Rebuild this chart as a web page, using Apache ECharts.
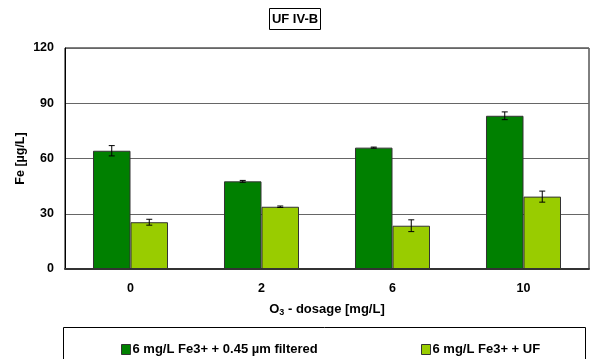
<!DOCTYPE html>
<html>
<head>
<meta charset="utf-8">
<script src="https://cdn.jsdelivr.net/npm/echarts@6/dist/echarts.min.js"></script>
<style>html,body{margin:0;padding:0;background:#fff;}#c{width:590px;height:359px;}</style>
</head>
<body>
<div id="c"></div>
<script>
var categories = ['0', '2', '6', '10'];
var seriesNames = ['6 mg/L Fe3+ + 0.45 µm filtered', '6 mg/L Fe3+ + UF'];
var filteredValues = [64.2, 47.6, 65.9, 83.2];
var filteredErrors = [2.8, 0.5, 0.3, 2.1];
var ufValues = [25.4, 33.8, 23.5, 39.3];
var ufErrors = [1.6, 0.4, 3.2, 3.0];
var yTicks = [0, 30, 60, 90, 120];
var yAxisTitle = 'Fe [µg/L]';

var FONT = '"Liberation Sans", Arial, sans-serif';
var BAR_FRAC = 0.2863;

function errorSeries(values, errors, side) {
  var data = values.map(function (v, i) { return [i, v - errors[i], v + errors[i]]; });
  return {
    type: 'custom',
    silent: true,
    z: 10,
    data: data,
    renderItem: function (params, api) {
      var idx = api.value(0);
      var bandW = api.size([1, 0])[0];
      var off = side * bandW * BAR_FRAC / 2;
      var lo = api.coord([idx, api.value(1)]);
      var hi = api.coord([idx, api.value(2)]);
      var x = lo[0] + off;
      var cap = 3;
      var st = { stroke: '#000', lineWidth: 1 };
      return {
        type: 'group',
        children: [
          { type: 'line', shape: { x1: x, y1: lo[1], x2: x, y2: hi[1] }, style: st },
          { type: 'line', shape: { x1: x - cap, y1: lo[1], x2: x + cap, y2: lo[1] }, style: st },
          { type: 'line', shape: { x1: x - cap, y1: hi[1], x2: x + cap, y2: hi[1] }, style: st }
        ]
      };
    }
  };
}

var legendText = { fontSize: 13, fontWeight: 'bold', color: '#000', fontFamily: FONT, padding: [0, 0, 0, -3] };

var chart = echarts.init(document.getElementById('c'));
chart.setOption({
  animation: false,
  backgroundColor: '#fff',
  textStyle: { fontFamily: FONT },
  title: {
    text: 'UF IV-B',
    left: 'center',
    top: 8,
    padding: [5, 3, 4, 3],
    borderColor: '#000',
    borderWidth: 1,
    textStyle: { fontSize: 13, fontWeight: 'bold', color: '#000', fontFamily: FONT }
  },
  grid: { left: 65, right: 1, top: 48, bottom: 90, show: true, borderColor: '#000', borderWidth: 1 },
  legend: [
    {
      data: [seriesNames[0]], icon: 'rect',
      left: 116, top: 338,
      itemWidth: 9, itemHeight: 10, itemGap: 0,
      itemStyle: { borderColor: '#333', borderWidth: 1 },
      textStyle: legendText
    },
    {
      data: [seriesNames[1]], icon: 'rect',
      left: 416, top: 338,
      itemWidth: 9, itemHeight: 10, itemGap: 0,
      itemStyle: { borderColor: '#333', borderWidth: 1 },
      textStyle: legendText
    }
  ],
  graphic: [
    { type: 'rect', shape: { x: 63.5, y: 327.5, width: 522, height: 40 }, style: { fill: 'none', stroke: '#000', lineWidth: 1 }, z: -1 },
    { type: 'text', x: 21, y: 158.5, rotation: Math.PI / 2,
      style: { text: yAxisTitle, align: 'center', verticalAlign: 'middle', fill: '#000',
        font: 'bold 12.5px "Liberation Sans", Arial, sans-serif' } }
  ],
  xAxis: {
    type: 'category',
    data: categories,
    name: '{a|O}{s|3}{a| - dosage [mg/L]}',
    nameLocation: 'middle',
    nameGap: 33,
    nameTextStyle: {
      rich: {
        a: { fontSize: 13, fontWeight: 'bold', color: '#000', fontFamily: FONT },
        s: { fontSize: 9, fontWeight: 'bold', color: '#000', fontFamily: FONT, verticalAlign: 'bottom', padding: [6, 0, 0, 0] }
      }
    },
    axisLine: { lineStyle: { color: '#333', width: 2 } },
    axisTick: { show: false },
    axisLabel: { margin: 13, fontSize: 12.5, fontWeight: 'bold', color: '#000', fontFamily: FONT }
  },
  yAxis: {
    type: 'value',
    min: 0, max: 120, interval: 30,
    axisLine: { show: true, lineStyle: { color: '#000', width: 1 } },
    axisTick: { show: false },
    axisLabel: { margin: 11, fontSize: 12.5, fontWeight: 'bold', color: '#000', fontFamily: FONT,
      formatter: function (v) { return yTicks.indexOf(v) >= 0 ? String(v) : ''; } },
    splitLine: { lineStyle: { color: '#666', width: 1 } }
  },
  series: [
    {
      name: seriesNames[0], type: 'bar', data: filteredValues,
      barWidth: (BAR_FRAC * 100) + '%', barGap: '0%',
      itemStyle: { color: '#008000', borderColor: '#333', borderWidth: 1 }
    },
    {
      name: seriesNames[1], type: 'bar', data: ufValues,
      barWidth: (BAR_FRAC * 100) + '%', barGap: '0%',
      itemStyle: { color: '#99CC00', borderColor: '#333', borderWidth: 1 }
    },
    errorSeries(filteredValues, filteredErrors, -1),
    errorSeries(ufValues, ufErrors, 1)
  ]
});
</script>
</body>
</html>
